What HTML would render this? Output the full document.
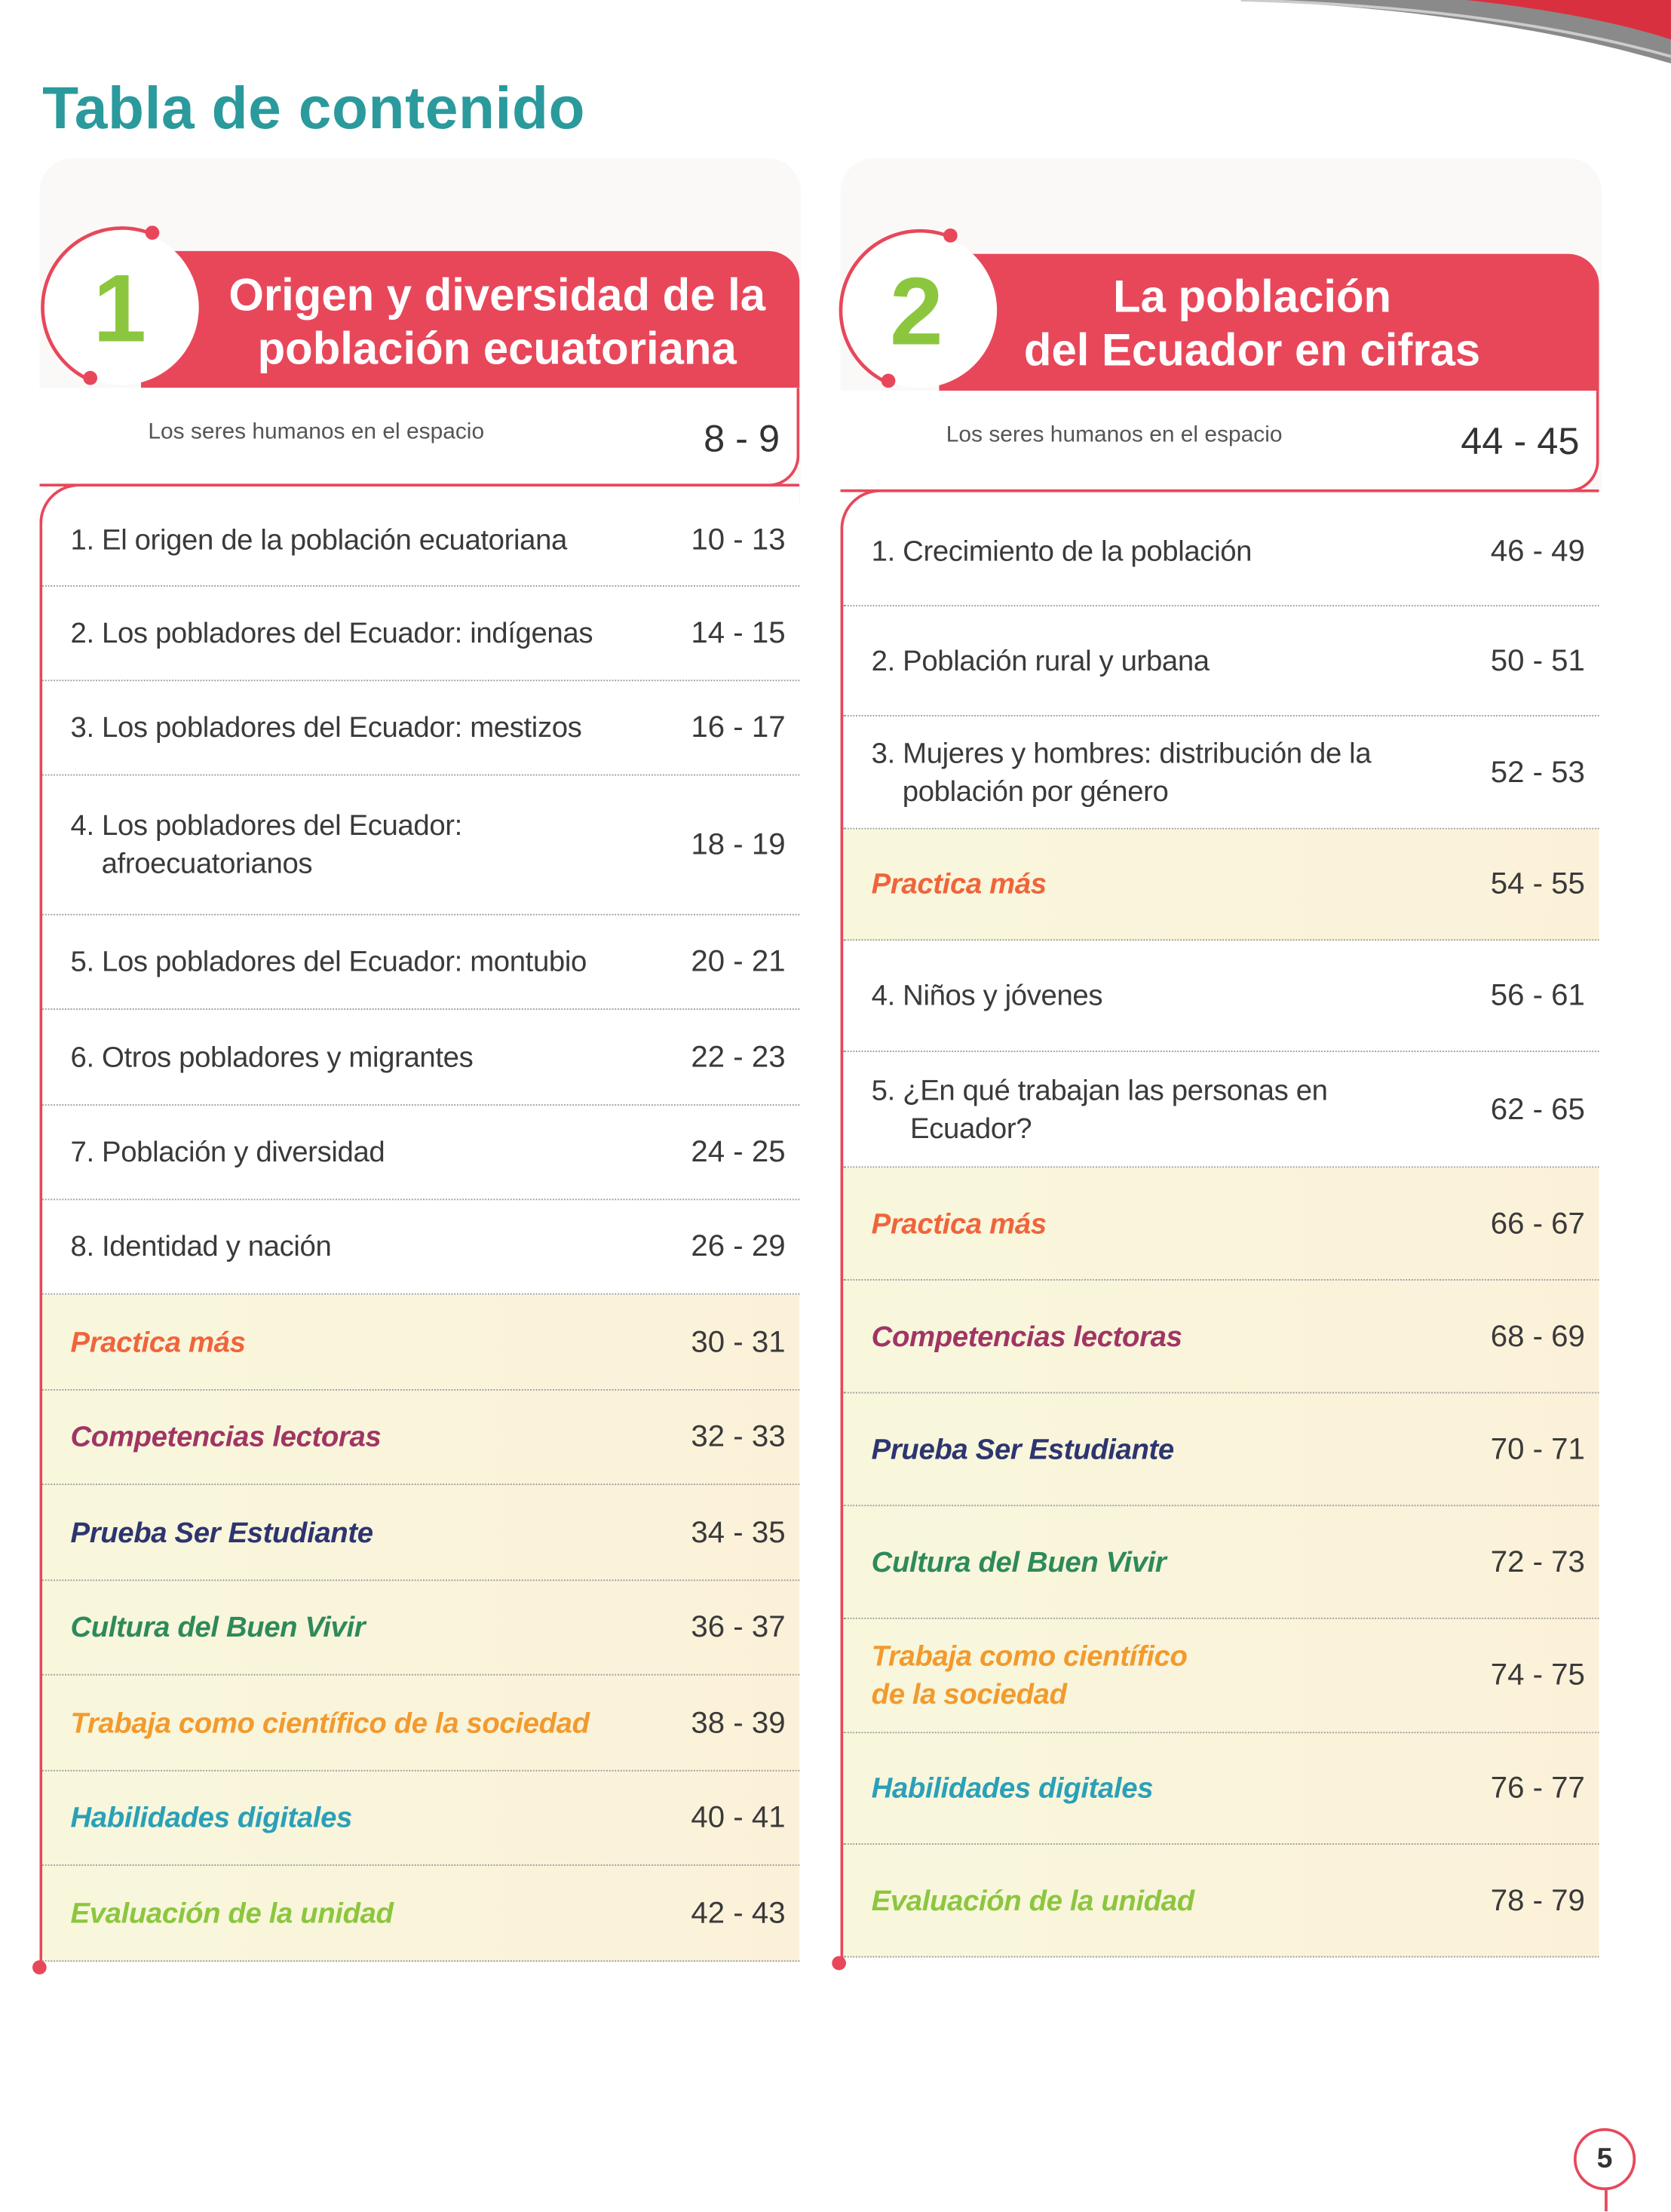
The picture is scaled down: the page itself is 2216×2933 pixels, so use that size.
<!DOCTYPE html>
<html><head><meta charset="utf-8"><style>
html,body{margin:0;padding:0;background:#fff;}
body{width:2216px;height:2933px;overflow:hidden;position:relative;}
#p{position:absolute;left:0;top:0;width:1185px;height:1568px;transform:scale(1.8700);transform-origin:0 0;font-family:"Liberation Sans",sans-serif;}
.a{position:absolute;}
.row{position:absolute;border-bottom:1.3px dotted #9a9a9a;box-sizing:border-box;}
.row .t{position:absolute;left:20px;top:50%;transform:translateY(-50%);font-size:20.5px;color:#3a3a3a;line-height:27px;letter-spacing:-0.2px;}
.row .n{position:absolute;right:10px;top:50%;transform:translateY(-50%);font-size:21.5px;color:#3a3a3a;}
.row .t i{font-style:italic;font-weight:bold;}
.col{background:linear-gradient(90deg,#f8f7dc,#fbf1d9);}
.red{background:#e8475a;}
</style></head><body><div id="p">
<svg class="a" style="left:880px;top:0" width="305" height="60"><path d="M0 0 Q180 8 305 45 L305 0Z" fill="#8a8a8a"/><path d="M160 0 Q250 10 305 28 L305 0Z" fill="#d9303f"/><path d="M0 0 Q180 5 305 40" stroke="#ccc" stroke-width="2" fill="none"/></svg>
<div class="a" style="left:30px;top:53px;font-size:42px;font-weight:bold;color:#2a9a9c;letter-spacing:0.3px">Tabla de contenido</div>

<div class="a" style="left:28px;top:112px;width:540px;height:232px;background:#fbf8f8;border-radius:24px 24px 0 0"></div>
<div class="a" style="left:596px;top:112px;width:540px;height:236px;background:#fbf8f8;border-radius:24px 24px 0 0"></div>

<!-- LEFT COLUMN -->
<div class="a red" style="left:100px;top:178px;width:467px;height:97px;border-radius:0 22px 0 0"></div>
<svg class="a" style="left:20px;top:155px" width="140" height="130"><circle cx="66" cy="63" r="55" fill="#fff"/><path d="M88 11 A56 56 0 1 0 45 115" stroke="#e8475a" stroke-width="2.5" fill="none"/><circle cx="88" cy="10" r="5" fill="#e8475a"/><circle cx="44" cy="113" r="5" fill="#e8475a"/></svg>
<div class="a" style="left:66px;top:180px;font-size:68px;font-weight:bold;color:#8cc63f">1</div>
<div class="a" style="left:140px;top:190px;width:425px;text-align:center;font-size:32px;font-weight:bold;color:#fff;line-height:38px">Origen y diversidad de la<br>población ecuatoriana</div>
<div class="a" style="left:28px;top:275px;width:539px;height:70px;border-right:2px solid #e8475a;border-bottom:2px solid #e8475a;border-radius:0 0 22px 0;box-sizing:border-box;background:#fff"></div>
<div class="a" style="left:105px;top:298px;font-size:16px;color:#555">Los seres humanos en el espacio</div>
<div class="a" style="left:470px;top:296px;width:83px;text-align:right;font-size:27px;color:#333">8 - 9</div>
<div class="a" style="left:28px;top:343px;width:539px;height:1052px;border-top:2px solid #e8475a;border-left:2px solid #e8475a;border-radius:28px 0 0 0;box-sizing:border-box;background:#fff"></div>
<div class="a col" style="left:30px;top:918px;width:537px;height:473px"></div>
<div class="a" style="left:23px;top:1390px;width:10px;height:10px;border-radius:50%;background:#e8475a"></div>

<div class="row" style="left:30px;top:350px;width:537px;height:66px"><span class="t">1. El origen de la población ecuatoriana</span><span class="n">10 - 13</span></div>
<div class="row" style="left:30px;top:416px;width:537px;height:67px"><span class="t">2. Los pobladores del Ecuador: indígenas</span><span class="n">14 - 15</span></div>
<div class="row" style="left:30px;top:483px;width:537px;height:67px"><span class="t">3. Los pobladores del Ecuador: mestizos</span><span class="n">16 - 17</span></div>
<div class="row" style="left:30px;top:550px;width:537px;height:99px"><span class="t">4. Los pobladores del Ecuador:<br>&nbsp;&nbsp;&nbsp;&nbsp;afroecuatorianos</span><span class="n">18 - 19</span></div>
<div class="row" style="left:30px;top:649px;width:537px;height:67px"><span class="t">5. Los pobladores del Ecuador: montubio</span><span class="n">20 - 21</span></div>
<div class="row" style="left:30px;top:716px;width:537px;height:68px"><span class="t">6. Otros pobladores y migrantes</span><span class="n">22 - 23</span></div>
<div class="row" style="left:30px;top:784px;width:537px;height:67px"><span class="t">7. Población y diversidad</span><span class="n">24 - 25</span></div>
<div class="row" style="left:30px;top:851px;width:537px;height:67px"><span class="t">8. Identidad y nación</span><span class="n">26 - 29</span></div>
<div class="row" style="left:30px;top:918px;width:537px;height:68px"><span class="t"><i style="color:#f0643c">Practica más</i></span><span class="n">30 - 31</span></div>
<div class="row" style="left:30px;top:986px;width:537px;height:67px"><span class="t"><i style="color:#a03565">Competencias lectoras</i></span><span class="n">32 - 33</span></div>
<div class="row" style="left:30px;top:1053px;width:537px;height:68px"><span class="t"><i style="color:#2d3570">Prueba Ser Estudiante</i></span><span class="n">34 - 35</span></div>
<div class="row" style="left:30px;top:1121px;width:537px;height:67px"><span class="t"><i style="color:#2e8a5a">Cultura del Buen Vivir</i></span><span class="n">36 - 37</span></div>
<div class="row" style="left:30px;top:1188px;width:537px;height:68px"><span class="t"><i style="color:#f29a2e">Trabaja como científico de la sociedad</i></span><span class="n">38 - 39</span></div>
<div class="row" style="left:30px;top:1256px;width:537px;height:67px"><span class="t"><i style="color:#2aa0b8">Habilidades digitales</i></span><span class="n">40 - 41</span></div>
<div class="row" style="left:30px;top:1323px;width:537px;height:68px"><span class="t"><i style="color:#8cc63f">Evaluación de la unidad</i></span><span class="n">42 - 43</span></div>

<!-- RIGHT COLUMN -->
<div class="a red" style="left:666px;top:180px;width:468px;height:97px;border-radius:0 22px 0 0"></div>
<svg class="a" style="left:586px;top:157px" width="140" height="130"><circle cx="66" cy="63" r="55" fill="#fff"/><path d="M88 11 A56 56 0 1 0 45 115" stroke="#e8475a" stroke-width="2.5" fill="none"/><circle cx="88" cy="10" r="5" fill="#e8475a"/><circle cx="44" cy="113" r="5" fill="#e8475a"/></svg>
<div class="a" style="left:631px;top:182px;font-size:68px;font-weight:bold;color:#8cc63f">2</div>
<div class="a" style="left:708px;top:191px;width:360px;text-align:center;font-size:32px;font-weight:bold;color:#fff;line-height:38px">La población<br>del Ecuador en cifras</div>
<div class="a" style="left:596px;top:277px;width:538px;height:72px;border-right:2px solid #e8475a;border-bottom:2px solid #e8475a;border-radius:0 0 22px 0;box-sizing:border-box;background:#fff"></div>
<div class="a" style="left:671px;top:300px;font-size:16px;color:#555">Los seres humanos en el espacio</div>
<div class="a" style="left:1010px;top:298px;width:110px;text-align:right;font-size:27px;color:#333">44 - 45</div>
<div class="a" style="left:596px;top:347px;width:538px;height:1045px;border-top:2px solid #e8475a;border-left:2px solid #e8475a;border-radius:28px 0 0 0;box-sizing:border-box;background:#fff"></div>
<div class="a col" style="left:598px;top:588px;width:536px;height:79px"></div>
<div class="a col" style="left:598px;top:828px;width:536px;height:560px"></div>
<div class="a" style="left:590px;top:1387px;width:10px;height:10px;border-radius:50%;background:#e8475a"></div>

<div class="row" style="left:598px;top:352px;width:536px;height:78px"><span class="t">1. Crecimiento de la población</span><span class="n">46 - 49</span></div>
<div class="row" style="left:598px;top:430px;width:536px;height:78px"><span class="t">2. Población rural y urbana</span><span class="n">50 - 51</span></div>
<div class="row" style="left:598px;top:508px;width:536px;height:80px"><span class="t">3. Mujeres y hombres: distribución de la<br>&nbsp;&nbsp;&nbsp;&nbsp;población por género</span><span class="n">52 - 53</span></div>
<div class="row" style="left:598px;top:588px;width:536px;height:79px"><span class="t"><i style="color:#f0643c">Practica más</i></span><span class="n">54 - 55</span></div>
<div class="row" style="left:598px;top:667px;width:536px;height:79px"><span class="t">4. Niños y jóvenes</span><span class="n">56 - 61</span></div>
<div class="row" style="left:598px;top:746px;width:536px;height:82px"><span class="t">5. ¿En qué trabajan las personas en<br>&nbsp;&nbsp;&nbsp;&nbsp;&nbsp;Ecuador?</span><span class="n">62 - 65</span></div>
<div class="row" style="left:598px;top:828px;width:536px;height:80px"><span class="t"><i style="color:#f0643c">Practica más</i></span><span class="n">66 - 67</span></div>
<div class="row" style="left:598px;top:908px;width:536px;height:80px"><span class="t"><i style="color:#a03565">Competencias lectoras</i></span><span class="n">68 - 69</span></div>
<div class="row" style="left:598px;top:988px;width:536px;height:80px"><span class="t"><i style="color:#2d3570">Prueba Ser Estudiante</i></span><span class="n">70 - 71</span></div>
<div class="row" style="left:598px;top:1068px;width:536px;height:80px"><span class="t"><i style="color:#2e8a5a">Cultura del Buen Vivir</i></span><span class="n">72 - 73</span></div>
<div class="row" style="left:598px;top:1148px;width:536px;height:81px"><span class="t"><i style="color:#f29a2e">Trabaja como científico<br>de la sociedad</i></span><span class="n">74 - 75</span></div>
<div class="row" style="left:598px;top:1229px;width:536px;height:79px"><span class="t"><i style="color:#2aa0b8">Habilidades digitales</i></span><span class="n">76 - 77</span></div>
<div class="row" style="left:598px;top:1308px;width:536px;height:80px"><span class="t"><i style="color:#8cc63f">Evaluación de la unidad</i></span><span class="n">78 - 79</span></div>

<div class="a" style="left:1116px;top:1509px;width:44px;height:44px;border:2px solid #e8475a;border-radius:50%;box-sizing:border-box;text-align:center;line-height:40px;font-size:20px;font-weight:bold;color:#333">5</div>
<div class="a" style="left:1138px;top:1553px;width:2px;height:15px;background:#e8475a"></div>
</div></body></html>
